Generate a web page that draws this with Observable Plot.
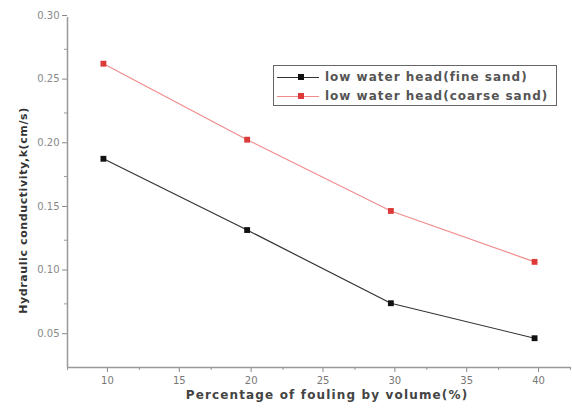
<!DOCTYPE html>
<html><head><meta charset="utf-8">
<script src="https://cdn.jsdelivr.net/npm/d3@7"></script>
<script src="https://cdn.jsdelivr.net/npm/@observablehq/plot@0.6"></script>
<style>
body{margin:0;background:#fff;font-family:"DejaVu Sans",sans-serif;}
#wrap{position:relative;width:572px;height:408px;}
#legend{position:absolute;left:273px;top:65px;width:284px;height:41px;border:1.5px solid #666;background:#fff;font-size:12px;font-weight:bold;letter-spacing:1px;color:#555;box-sizing:border-box;padding-top:1px;}
.row{display:flex;align-items:center;height:19px;white-space:nowrap;}
.sw{position:relative;width:42px;height:10px;margin-left:3px;margin-right:6px;}
.sw .ln{position:absolute;left:0;right:0;top:5px;height:1px;}
.sw .mk{position:absolute;left:21px;top:2px;width:6px;height:6px;}
</style></head>
<body><div id="wrap"></div>
<script>
const fouling = [10, 20, 30, 40];
const fineSand = [0.189, 0.133, 0.0755, 0.048];
const coarseSand = [0.2637, 0.204, 0.148, 0.108];
const seriesNames = ["low water head(fine sand)", "low water head(coarse sand)"];
const xTitle = "Percentage of fouling by volume(%)";
const yTitle = "Hydraulic conductivity,k(cm/s)";
const xTicks = [10, 15, 20, 25, 30, 35, 40];
const yTicks = [0.05, 0.10, 0.15, 0.20, 0.25, 0.30];
const xMinor = [7.5, 12.5, 17.5, 22.5, 27.5, 32.5, 37.5, 42.5];
const yMinor = [0.075, 0.125, 0.175, 0.225, 0.275];

const lineColors = ["#333333", "#f08c8c"];
const markColors = ["#111111", "#dd3a3a"];

const data = [];
fouling.forEach((f, i) => {
  data.push({x: f, y: fineSand[i], s: seriesNames[0]});
  data.push({x: f, y: coarseSand[i], s: seriesNames[1]});
});

const chart = Plot.plot({
  width: 572, height: 408,
  marginLeft: 67, marginRight: 2, marginTop: 17, marginBottom: 41,
  style: {fontFamily: "DejaVu Sans, sans-serif", fontSize: "10px", color: "#777", background: "#fff"},
  x: {domain: [7.5, 42.5]},
  y: {domain: [0.025, 0.30]},
  marks: [
    Plot.axisX({ticks: xMinor, tickSize: 3, tickFormat: () => "", stroke: "#999", label: null}),
    Plot.axisX({ticks: xTicks, tickSize: 5, tickFormat: d => String(d), stroke: "#888", fill: "#777", tickPadding: 4, dx: 4, label: null, fontSize: 10}),
    Plot.axisY({ticks: yMinor, tickSize: 3, tickFormat: () => "", stroke: "#999", label: null}),
    Plot.axisY({ticks: yTicks, tickSize: 5, tickFormat: d3.format(".2f"), stroke: "#888", fill: "#888", tickPadding: 3, dy: -2, label: null, fontSize: 10}),
    Plot.ruleY([0.025], {stroke: "#999", strokeWidth: 1.5}),
    Plot.ruleX([7.5], {stroke: "#999", strokeWidth: 1.5}),
    Plot.line(data, {x: "x", y: "y", z: "s", stroke: d => d.s === seriesNames[0] ? lineColors[0] : lineColors[1], strokeWidth: 1.2}),
    Plot.dot(data, {x: "x", y: "y", symbol: "square", r: 3.3, fill: d => d.s === seriesNames[0] ? markColors[0] : markColors[1], stroke: "none"}),
    Plot.text([xTitle], {frameAnchor: "bottom", dy: 31, dx: 8, fill: "#444", fontSize: 12, fontWeight: "bold"}),
    Plot.text([yTitle], {frameAnchor: "left", textAnchor: "middle", dx: -44, dy: 18, rotate: -90, fill: "#333", fontSize: 11, fontWeight: "bold"})
  ]
});
d3.select(chart).selectAll("text").each(function() {
  if (this.textContent === xTitle) d3.select(this).style("letter-spacing", "1.15px");
  if (this.textContent === yTitle) d3.select(this).style("letter-spacing", "0.6px");
});
const wrap = document.getElementById("wrap");
wrap.appendChild(chart);

const leg = document.createElement("div");
leg.id = "legend";
seriesNames.forEach((n, i) => {
  const r = document.createElement("div");
  r.className = "row";
  r.innerHTML = `<span class="sw"><span class="ln" style="background:${lineColors[i]}"></span><span class="mk" style="background:${markColors[i]}"></span></span><span>${n}</span>`;
  leg.appendChild(r);
});
wrap.appendChild(leg);
</script>
</body></html>
